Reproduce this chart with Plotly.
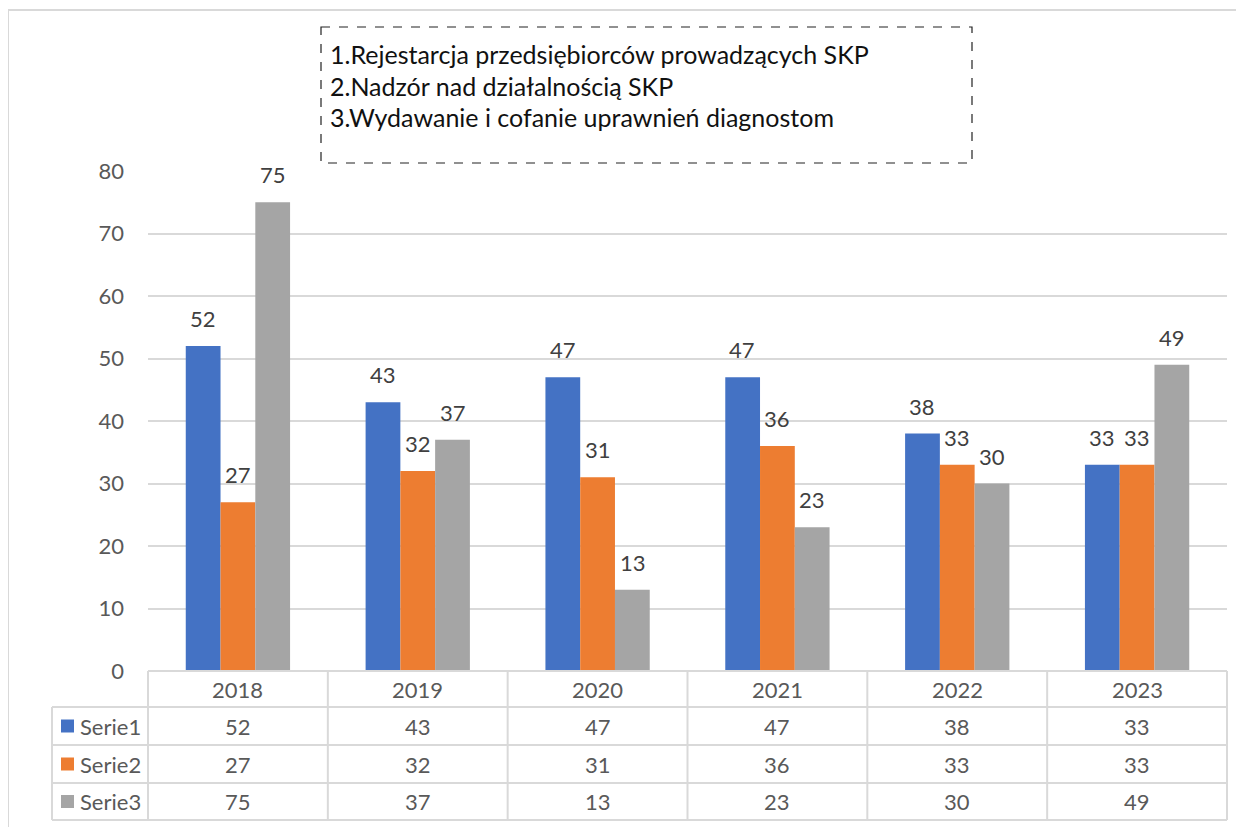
import plotly.graph_objects as go

years = ["2018", "2019", "2020", "2021", "2022", "2023"]
series_names = ["Serie1", "Serie2", "Serie3"]
serie1 = [52, 43, 47, 47, 38, 33]
serie2 = [27, 32, 31, 36, 33, 33]
serie3 = [75, 37, 13, 23, 30, 49]
box_lines = [
    "1.Rejestarcja przedsiębiorców prowadzących SKP",
    "2.Nadzór nad działalnością SKP",
    "3.Wydawanie i cofanie uprawnień diagnostom",
]

W, H = 1244, 827
OFF = 8  # page body margin
colors = ["#4472C4", "#ED7D31", "#A5A5A5"]
FONT = "Lato"
GRID = "#d9d9d9"
TXT = "#595959"
FS = 22


def px_x(v):
    return (v - OFF) / W


def px_y(v):
    return 1 - (v - OFF) / H


left, right = 148, 1227
y0_px, y80_px = 671, 171
row_lines = [671, 707, 745, 783, 820]
label_left = 52

fig = go.Figure()
all_series = [serie1, serie2, serie3]
for name, vals, col in zip(series_names, all_series, colors):
    fig.add_trace(go.Bar(x=years, y=vals, name=name, marker_color=col,
                         marker_line_width=0))

shapes = []
annotations = []

# data labels above bars
bar_w = 35
for i, vals in enumerate(all_series):
    for j, v in enumerate(vals):
        annotations.append(dict(
            x=j, y=v, xref="x", yref="y", text=str(v), showarrow=False,
            xshift=(i - 1) * bar_w, yshift=12, yanchor="bottom",
            font=dict(family=FONT, size=FS, color="#404040")))

# table grid
col_w = (right - left) / len(years)
cols = [left + k * col_w for k in range(len(years) + 1)]
for cx in cols:
    shapes.append(dict(type="line", xref="paper", yref="paper",
                       x0=px_x(cx), x1=px_x(cx),
                       y0=px_y(row_lines[0]), y1=px_y(row_lines[-1]),
                       line=dict(color=GRID, width=2)))
shapes.append(dict(type="line", xref="paper", yref="paper",
                   x0=px_x(label_left), x1=px_x(label_left),
                   y0=px_y(row_lines[1]), y1=px_y(row_lines[-1]),
                   line=dict(color=GRID, width=2)))
for k, ry in enumerate(row_lines):
    x_start = left if k == 0 else label_left
    shapes.append(dict(type="line", xref="paper", yref="paper",
                       x0=px_x(x_start), x1=px_x(right),
                       y0=px_y(ry), y1=px_y(ry),
                       line=dict(color=GRID, width=2)))

# header row
for j, yr in enumerate(years):
    annotations.append(dict(
        x=j, xref="x", y=px_y((row_lines[0] + row_lines[1]) / 2), yref="paper",
        text=yr, showarrow=False, yanchor="middle",
        font=dict(family=FONT, size=FS, color=TXT)))

# value rows
for r, (name, vals, col) in enumerate(zip(series_names, all_series, colors)):
    cy = (row_lines[r + 1] + row_lines[r + 2]) / 2
    for j, v in enumerate(vals):
        annotations.append(dict(
            x=j, xref="x", y=px_y(cy), yref="paper", text=str(v),
            showarrow=False, yanchor="middle",
            font=dict(family=FONT, size=FS, color=TXT)))
    shapes.append(dict(type="rect", xref="paper", yref="paper",
                       x0=px_x(61), x1=px_x(74),
                       y0=px_y(cy + 6.5), y1=px_y(cy - 6.5),
                       fillcolor=col, line=dict(width=0)))
    annotations.append(dict(
        x=px_x(78), xref="paper", y=px_y(cy), yref="paper", text=name,
        showarrow=False, xanchor="left", yanchor="middle",
        font=dict(family=FONT, size=FS, color=TXT)))

# text box
shapes.append(dict(type="rect", xref="paper", yref="paper",
                   x0=px_x(321), x1=px_x(972), y0=px_y(27), y1=px_y(163),
                   line=dict(color="#222222", width=1.2, dash="dash")))
for k, line in enumerate(box_lines):
    annotations.append(dict(
        x=px_x(328), xref="paper", y=px_y(54 + k * 31.5), yref="paper",
        text=line, showarrow=False, xanchor="left", yanchor="middle",
        font=dict(family=FONT, size=25, color="#111111")))

# outer frame
shapes.append(dict(type="rect", xref="paper", yref="paper",
                   x0=px_x(8), x1=px_x(1270), y0=px_y(10), y1=px_y(860),
                   line=dict(color=GRID, width=2)))

fig.update_layout(
    width=W, height=H,
    margin=dict(l=0, r=0, t=0, b=0, pad=0),
    paper_bgcolor="white", plot_bgcolor="white",
    barmode="group", bargap=0.42, bargroupgap=0,
    showlegend=False,
    font=dict(family=FONT, size=FS, color=TXT),
    shapes=shapes, annotations=annotations,
    xaxis=dict(domain=[px_x(left), px_x(right)], type="category",
               range=[-0.5, len(years) - 0.5],
               showticklabels=False, automargin=False,
               showgrid=False, zeroline=False, showline=False, ticks=""),
    yaxis=dict(domain=[px_y(y0_px), px_y(y80_px)], range=[0, 80], dtick=10,
               automargin=False,
               showgrid=True, gridcolor=GRID, gridwidth=1.5, zeroline=False,
               showline=False, ticks="", ticklabelstandoff=23,
               tickfont=dict(family=FONT, size=FS, color=TXT)),
)

fig.write_html("out.html")
